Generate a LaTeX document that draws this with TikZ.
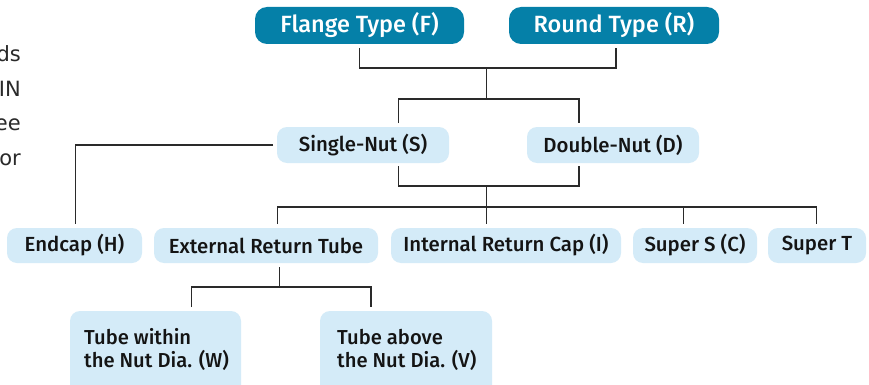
\documentclass[tikz,border=0pt]{standalone}
\usepackage{fontspec}
\setmainfont{Fira Sans Medium}
\newfontfamily\sidefont{DejaVu Sans}
\definecolor{darkbox}{HTML}{0580A8}
\definecolor{lightbox}{HTML}{D4EBF8}
\definecolor{txt}{HTML}{141414}
\definecolor{wire}{HTML}{2A2A2A}
\definecolor{sidetxt}{HTML}{2A2A2A}
\begin{document}
\begin{tikzpicture}[x=1pt,y=-1pt,
  topbox/.style={fill=darkbox, text=white, rounded corners=12pt, font=\fontsize{23.5}{26}\selectfont, inner sep=0pt},
  subbox/.style={fill=lightbox, text=txt, rounded corners=10pt, font=\fontsize{20.4}{24}\selectfont, inner sep=0pt},
  boxtext/.style={anchor=base west, inner sep=0pt, text=txt, font=\fontsize{20.2}{24}\selectfont},
  wirestyle/.style={draw=wire, line width=1.3pt},
  sidestyle/.style={font=\sidefont\fontsize{21}{24}\selectfont, text=sidetxt, anchor=base east, inner sep=0pt}]
\clip (0,0) rectangle (869,385);
\fill[white] (0,0) rectangle (869,385);
% partial side text
\node[sidestyle] (s1) at (21,62) {ds};
\node[sidestyle] (s2) at (21,96) {IN};
\node[sidestyle] (s3) at (21,131) {ee};
\node[sidestyle] (s4) at (21,165) {or};
% top boxes
\node[topbox, minimum width=209pt, minimum height=37pt] (F) at (359.5,25.5) {Flange Type (F)};
\node[topbox, minimum width=210pt, minimum height=37pt] (R) at (614,25.5) {Round Type (R)};
% second row
\node[subbox, minimum width=172pt, minimum height=36pt] (S) at (363,145) {Single-Nut (S)};
\node[subbox, minimum width=172pt, minimum height=36pt] (D) at (613,145) {Double-Nut (D)};
% third row
\node[subbox, minimum width=135pt, minimum height=35pt] (H) at (74.5,245.5) {Endcap (H)};
\node[subbox, minimum width=224pt, minimum height=35pt] (E) at (266,245.5) {External Return Tube};
\node[subbox, minimum width=230pt, minimum height=35pt] (I) at (506,245.5) {Internal Return Cap (I)};
\node[subbox, minimum width=124pt, minimum height=35pt] (C) at (695,245.5) {Super S (C)};
\node[subbox, minimum width=98pt, minimum height=35pt] (T) at (817,245.5) {Super T};
% bottom row
\node[subbox, minimum width=171pt, minimum height=84pt] (W) at (155.5,353) {};
\node[subbox, minimum width=172pt, minimum height=84pt] (V) at (406,353) {};
\node[boxtext] (Wt1) at (84,344) {Tube within};
\node[boxtext] (Wt2) at (84,367) {the Nut Dia. (W)};
\node[boxtext] (Vt1) at (337,344) {Tube above};
\node[boxtext] (Vt2) at (337,367) {the Nut Dia. (V)};
% connector points
\coordinate (fa) at (359.7,48);
\coordinate (ra) at (616,48);
\coordinate (fb) at (359.7,68);
\coordinate (rb) at (616,68);
\coordinate (j1) at (486.7,68);
\coordinate (j2) at (486.7,99);
\coordinate (sa) at (398.7,99);
\coordinate (da) at (579,99);
\coordinate (sb) at (398.7,123);
\coordinate (db) at (579,123);
\coordinate (sc) at (398.7,166);
\coordinate (dc) at (579,166);
\coordinate (sd) at (398.7,186);
\coordinate (dd) at (579,186);
\coordinate (j3) at (486.7,186);
\coordinate (j4) at (486.7,207);
\coordinate (hl) at (273,145);
\coordinate (hc) at (75.7,145);
\coordinate (hd) at (75.7,224);
\coordinate (ea) at (277.7,207);
\coordinate (eb) at (277.7,224);
\coordinate (ib) at (486.7,224);
\coordinate (ca) at (683.3,207);
\coordinate (cb) at (683.3,224);
\coordinate (ta) at (816.7,207);
\coordinate (tb) at (816.7,224);
\coordinate (ec) at (279.3,267);
\coordinate (j5) at (279.3,287);
\coordinate (wa) at (191.7,287);
\coordinate (wb) at (191.7,307);
\coordinate (va) at (371,287);
\coordinate (vb) at (371,307);
% connectors
\draw[wirestyle] (fa) -- (fb) -- (rb) -- (ra);
\draw[wirestyle] (j1) -- (j2);
\draw[wirestyle] (sb) -- (sa) -- (da) -- (db);
\draw[wirestyle] (sc) -- (sd) -- (dd) -- (dc);
\draw[wirestyle] (j3) -- (j4);
\draw[wirestyle] (hl) -- (hc) -- (hd);
\draw[wirestyle] (eb) -- (ea) -- (ta) -- (tb);
\draw[wirestyle] (j4) -- (ib);
\draw[wirestyle] (ca) -- (cb);
\draw[wirestyle] (ec) -- (j5);
\draw[wirestyle] (wb) -- (wa) -- (va) -- (vb);
\end{tikzpicture}
\end{document}
